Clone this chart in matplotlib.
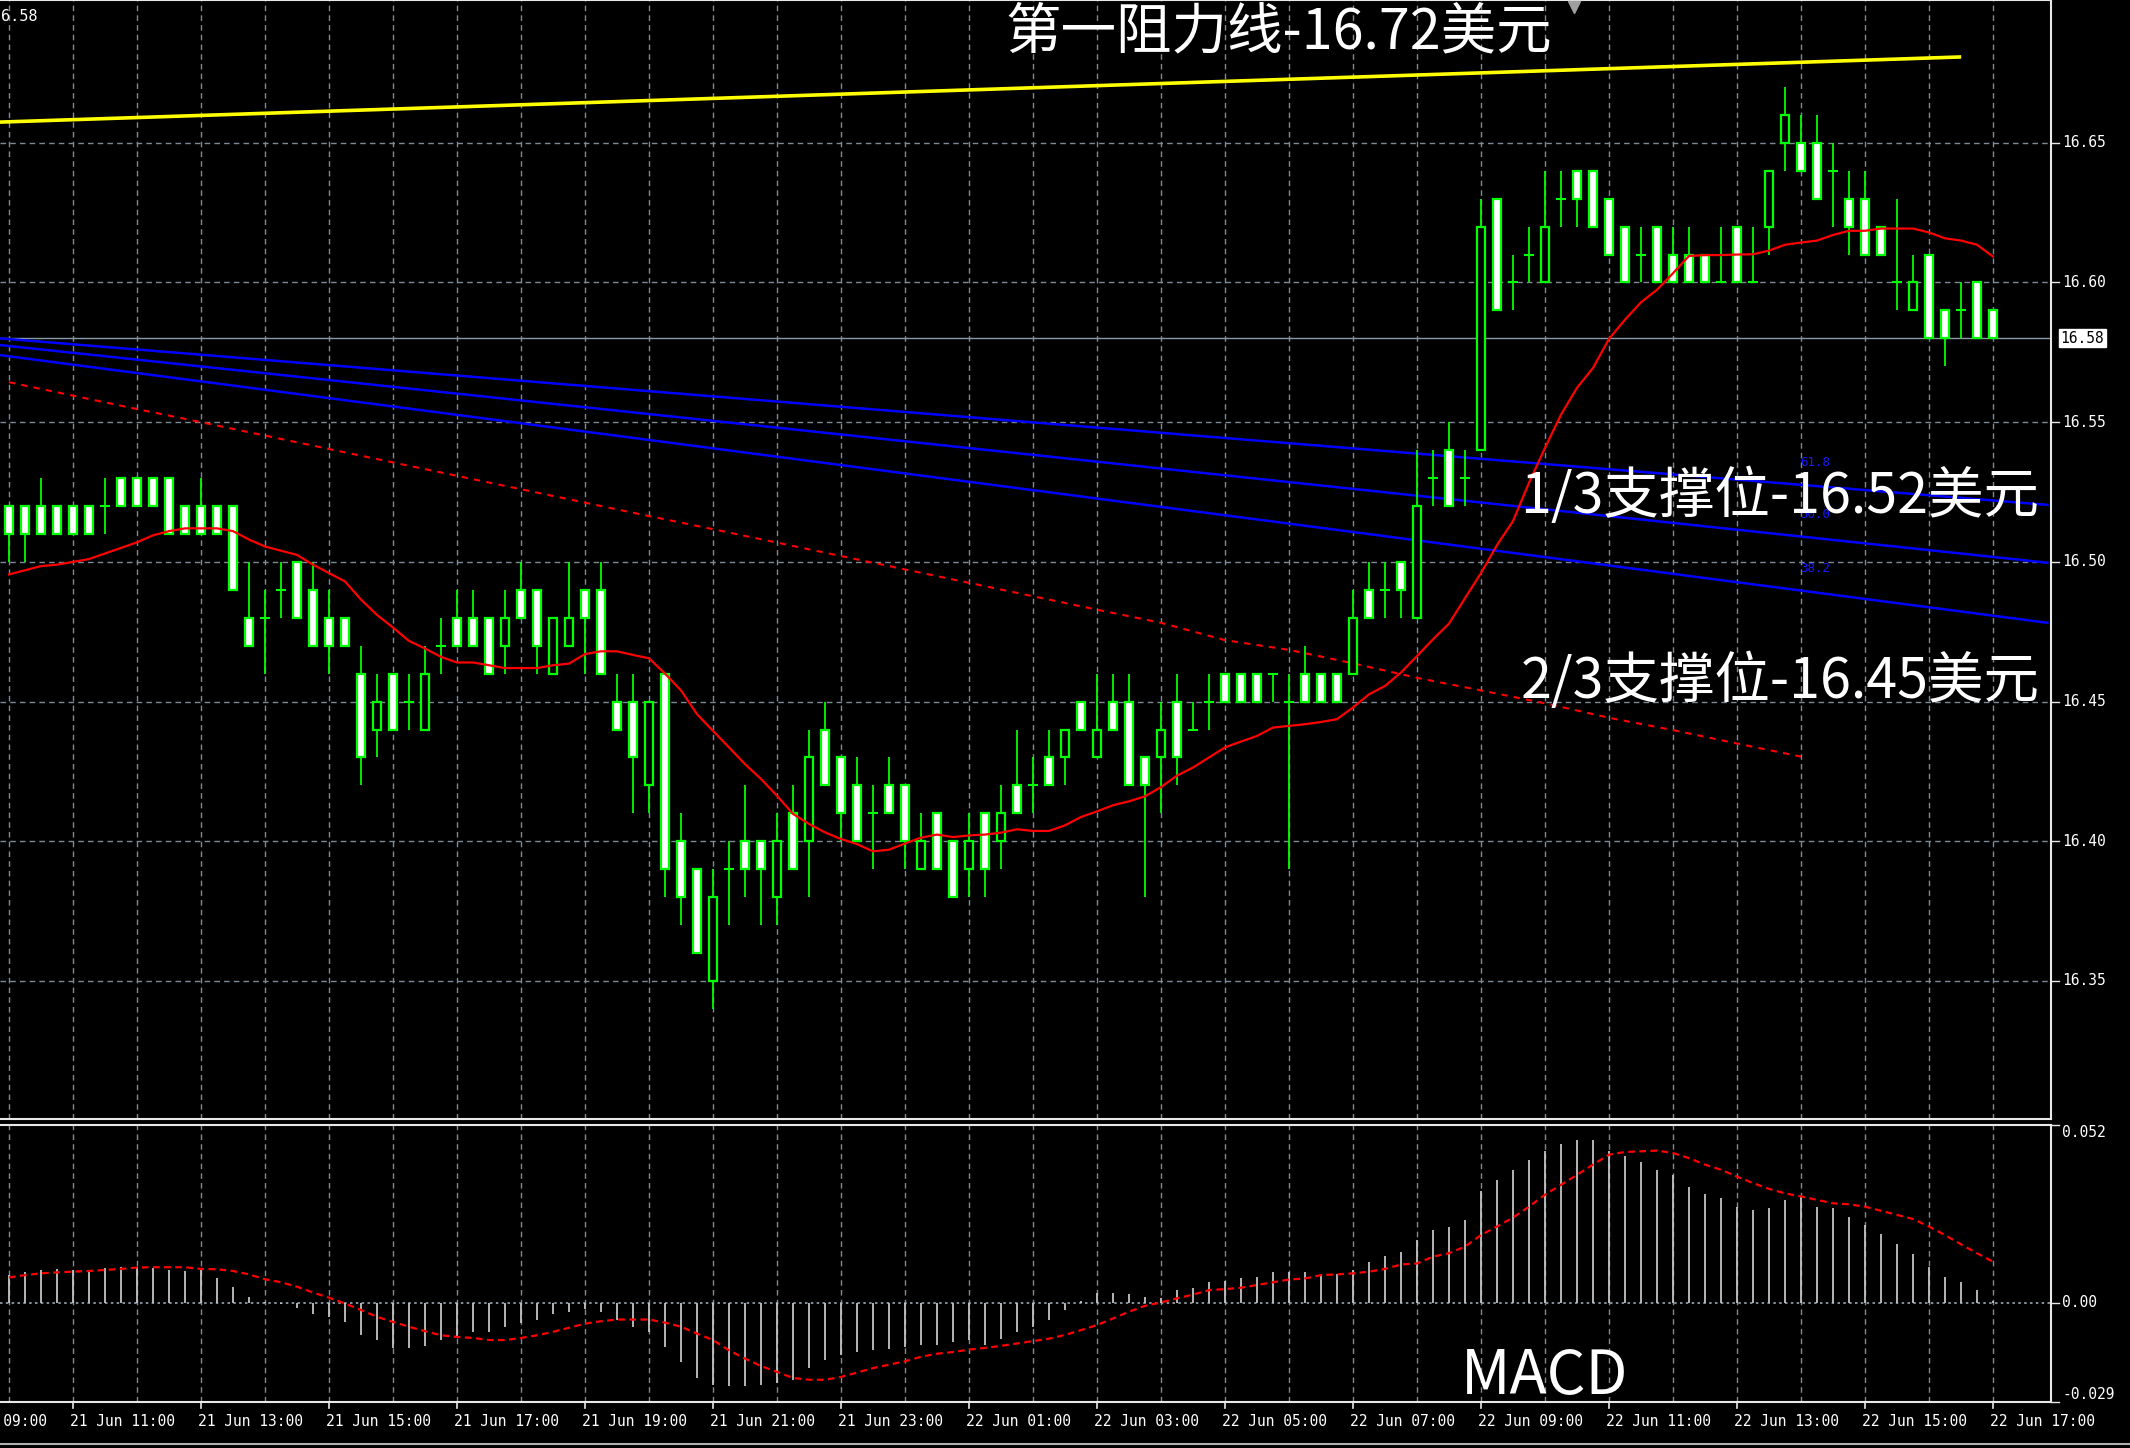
import numpy as np
import matplotlib
matplotlib.use("Agg")
import matplotlib.pyplot as plt
import matplotlib.transforms as mtransforms

plt.rcParams['font.family'] = ['Noto Sans CJK SC', 'DejaVu Sans']

# XAGUSD M15 candles, 21 Jun 10:00 .. 22 Jun 17:00
opens = [16.52, 16.52, 16.52, 16.52, 16.52, 16.52, 16.52, 16.53, 16.53, 16.53,
         16.53, 16.52, 16.52, 16.52, 16.52, 16.48, 16.48, 16.49, 16.50, 16.49,
         16.48, 16.48, 16.46, 16.44, 16.46, 16.45, 16.44, 16.47, 16.48, 16.48,
         16.48, 16.47, 16.49, 16.49, 16.46, 16.47, 16.49, 16.49, 16.45, 16.45,
         16.42, 16.46, 16.40, 16.39, 16.35, 16.39, 16.40, 16.40, 16.38, 16.41,
         16.40, 16.44, 16.43, 16.42, 16.41, 16.42, 16.42, 16.39, 16.41, 16.40,
         16.39, 16.41, 16.40, 16.42, 16.42, 16.43, 16.43, 16.45, 16.43, 16.45,
         16.45, 16.43, 16.43, 16.45, 16.44, 16.45, 16.46, 16.46, 16.46, 16.46,
         16.45, 16.46, 16.46, 16.46, 16.46, 16.49, 16.49, 16.50, 16.48, 16.53,
         16.54, 16.53, 16.54, 16.63, 16.60, 16.61, 16.60, 16.63, 16.64, 16.64,
         16.63, 16.62, 16.61, 16.62, 16.61, 16.61, 16.61, 16.60, 16.62, 16.60,
         16.62, 16.65, 16.65, 16.65, 16.64, 16.63, 16.63, 16.62, 16.60, 16.59,
         16.61, 16.59, 16.59, 16.60, 16.59]
highs = [16.52, 16.52, 16.53, 16.52, 16.52, 16.52, 16.53, 16.53, 16.53, 16.53,
         16.53, 16.52, 16.53, 16.52, 16.52, 16.50, 16.49, 16.50, 16.50, 16.50,
         16.49, 16.48, 16.47, 16.46, 16.46, 16.46, 16.47, 16.48, 16.49, 16.49,
         16.48, 16.49, 16.50, 16.49, 16.48, 16.50, 16.49, 16.50, 16.46, 16.46,
         16.45, 16.46, 16.41, 16.39, 16.39, 16.40, 16.42, 16.40, 16.41, 16.42,
         16.44, 16.45, 16.43, 16.43, 16.42, 16.43, 16.42, 16.41, 16.41, 16.40,
         16.41, 16.41, 16.42, 16.44, 16.43, 16.44, 16.44, 16.45, 16.46, 16.46,
         16.46, 16.43, 16.45, 16.46, 16.45, 16.46, 16.46, 16.46, 16.46, 16.46,
         16.46, 16.47, 16.46, 16.46, 16.49, 16.50, 16.50, 16.50, 16.54, 16.54,
         16.55, 16.54, 16.63, 16.63, 16.61, 16.62, 16.64, 16.64, 16.64, 16.64,
         16.63, 16.62, 16.62, 16.62, 16.62, 16.62, 16.61, 16.62, 16.62, 16.62,
         16.64, 16.67, 16.66, 16.66, 16.65, 16.64, 16.64, 16.62, 16.63, 16.61,
         16.61, 16.59, 16.60, 16.60, 16.59]
lows = [16.50, 16.50, 16.51, 16.51, 16.51, 16.51, 16.51, 16.52, 16.52, 16.52,
        16.51, 16.51, 16.51, 16.51, 16.49, 16.47, 16.46, 16.48, 16.48, 16.47,
        16.46, 16.47, 16.42, 16.43, 16.44, 16.44, 16.44, 16.46, 16.47, 16.47,
        16.46, 16.46, 16.48, 16.46, 16.46, 16.47, 16.46, 16.46, 16.44, 16.41,
        16.41, 16.38, 16.37, 16.36, 16.34, 16.37, 16.38, 16.37, 16.37, 16.39,
        16.38, 16.42, 16.40, 16.40, 16.39, 16.41, 16.39, 16.39, 16.39, 16.38,
        16.38, 16.38, 16.39, 16.41, 16.41, 16.42, 16.42, 16.44, 16.43, 16.44,
        16.42, 16.38, 16.41, 16.42, 16.44, 16.44, 16.45, 16.45, 16.45, 16.45,
        16.39, 16.45, 16.45, 16.45, 16.46, 16.48, 16.48, 16.48, 16.48, 16.52,
        16.52, 16.52, 16.54, 16.59, 16.59, 16.60, 16.60, 16.62, 16.62, 16.62,
        16.61, 16.60, 16.60, 16.60, 16.60, 16.60, 16.60, 16.60, 16.60, 16.60,
        16.61, 16.64, 16.64, 16.63, 16.62, 16.61, 16.61, 16.61, 16.59, 16.59,
        16.58, 16.57, 16.58, 16.58, 16.58]
closes = [16.51, 16.51, 16.51, 16.51, 16.51, 16.51, 16.52, 16.52, 16.52, 16.52,
          16.51, 16.51, 16.51, 16.51, 16.49, 16.47, 16.48, 16.49, 16.48, 16.47,
          16.47, 16.47, 16.43, 16.45, 16.44, 16.45, 16.46, 16.47, 16.47, 16.47,
          16.46, 16.48, 16.48, 16.47, 16.48, 16.48, 16.48, 16.46, 16.44, 16.43,
          16.45, 16.39, 16.38, 16.36, 16.38, 16.39, 16.39, 16.39, 16.40, 16.39,
          16.43, 16.42, 16.41, 16.40, 16.41, 16.41, 16.40, 16.40, 16.39, 16.38,
          16.40, 16.39, 16.41, 16.41, 16.42, 16.42, 16.44, 16.44, 16.44, 16.44,
          16.42, 16.42, 16.44, 16.43, 16.44, 16.45, 16.45, 16.45, 16.45, 16.46,
          16.45, 16.45, 16.45, 16.45, 16.48, 16.48, 16.49, 16.49, 16.52, 16.53,
          16.52, 16.53, 16.62, 16.59, 16.60, 16.61, 16.62, 16.63, 16.63, 16.62,
          16.61, 16.60, 16.61, 16.60, 16.60, 16.60, 16.60, 16.60, 16.60, 16.60,
          16.64, 16.66, 16.64, 16.63, 16.64, 16.62, 16.61, 16.61, 16.60, 16.60,
          16.58, 16.58, 16.59, 16.58, 16.58]

# red moving average (solid), one value per candle
ma_fast = [16.4955, 16.497, 16.4985, 16.499, 16.500, 16.501, 16.503, 16.505, 16.507, 16.5095,
           16.511, 16.512, 16.512, 16.512, 16.511, 16.508, 16.5055, 16.504, 16.5025, 16.499,
           16.496, 16.493, 16.4865, 16.481, 16.4765, 16.4717, 16.469, 16.466, 16.464, 16.464,
           16.463, 16.462, 16.462, 16.462, 16.463, 16.4636, 16.467, 16.468, 16.468, 16.4667,
           16.4655, 16.460, 16.454, 16.4455, 16.4395, 16.4336, 16.4276, 16.4223, 16.4163, 16.4098,
           16.4062, 16.4032, 16.4008, 16.399, 16.3964, 16.397, 16.3992, 16.4013, 16.4024, 16.4015,
           16.4021, 16.4024, 16.4031, 16.4043, 16.4037, 16.4037, 16.4057, 16.4087, 16.4107, 16.4129,
           16.4143, 16.4161, 16.4194, 16.4235, 16.4264, 16.430, 16.4336, 16.4357, 16.4377, 16.4407,
           16.4413, 16.4419, 16.4427, 16.4437, 16.4479, 16.4526, 16.4556, 16.4604, 16.4663, 16.4723,
           16.4779, 16.487, 16.496, 16.506, 16.5146, 16.5283, 16.5408, 16.5527, 16.5623, 16.5694,
           16.5798, 16.5867, 16.5929, 16.5974, 16.6033, 16.6095, 16.6098, 16.6098, 16.610, 16.6101,
           16.6114, 16.6135, 16.6143, 16.615, 16.617, 16.6185, 16.6185, 16.6193, 16.6193, 16.6193,
           16.6179, 16.6158, 16.615, 16.6135, 16.6093]

# red dashed slow average, read every hour
ma_slow_idx = [0, 4, 8, 12, 16, 20, 24, 28, 32, 36, 40, 44, 48, 52, 56, 60, 64, 68, 72,
               76, 80, 84, 88, 92, 96, 100, 104, 108, 112]
ma_slow = [16.5643, 16.5595, 16.5547, 16.5500, 16.5452, 16.5404, 16.5356, 16.5308, 16.5260,
           16.5212, 16.5164, 16.5117, 16.5069, 16.5021, 16.4973, 16.4925, 16.4877, 16.4829,
           16.4782, 16.4720, 16.4685, 16.4637, 16.4585, 16.4540, 16.4494, 16.4442, 16.4398,
           16.4350, 16.4303]

# fibo fan lines (61.8 / 50.0 / 38.2) and resistance trendline: start / end
fan_idx = [-0.5625, 127.4]
fan_start = [16.5800, 16.5776, 16.5740]
fan_end = [16.5204, 16.4997, 16.4782]
fan_names = ["61.8", "50.0", "38.2"]
res_idx = [-0.5625, 121.9]
res_price = [16.6574, 16.6807]
last_price = 16.58

# MACD histogram and signal (x 0.001)
macd_hist = [8.1, 8.9, 9.6, 9.8, 9.6, 9.6, 10.1, 10.6, 10.6, 10.3,
             9.6, 9.3, 9.6, 7.1, 4.7, 1.8, 0.3, -0.3, -1.5, -3.4,
             -4.1, -5.6, -9.5, -10.9, -13.2, -13.2, -12.7, -10.9, -10.3, -8.5,
             -8.5, -7.0, -5.8, -5.1, -3.4, -2.6, -1.7, -2.8, -5.1, -7.0,
             -8.5, -12.9, -17.3, -22.0, -23.9, -24.4, -24.4, -24.1, -23.6, -22.7,
             -19.1, -16.8, -15.3, -14.4, -13.9, -13.4, -12.9, -12.4, -12.4, -11.4,
             -10.9, -12.4, -10.5, -8.5, -7.0, -5.1, -2.1, 0.5, 3.0, 3.0,
             2.5, 1.8, 1.5, 3.6, 4.2, 6.0, 6.4, 7.1, 7.6, 8.9,
             8.9, 8.9, 8.3, 8.3, 9.6, 11.8, 13.7, 14.9, 18.4, 21.3,
             22.3, 24.2, 32.7, 36.0, 38.9, 41.8, 44.5, 46.4, 47.7, 47.7,
             44.3, 42.8, 41.3, 38.9, 37.4, 34.0, 31.8, 30.6, 28.1, 27.2,
             27.6, 30.1, 31.3, 28.1, 27.6, 25.2, 22.6, 20.0, 17.1, 14.2,
             10.6, 7.6, 6.0, 3.6, 0.5]
macd_signal = [7.4, 8.1, 8.6, 8.9, 9.1, 9.3, 9.6, 9.9, 10.3, 10.4,
               10.4, 10.4, 9.9, 9.8, 9.3, 8.3, 6.9, 6.0, 4.7, 3.0,
               1.5, -0.2, -2.1, -4.1, -5.6, -7.0, -8.3, -9.5, -10.0, -10.3,
               -10.9, -10.9, -10.3, -9.5, -8.5, -7.3, -6.1, -5.4, -4.9, -4.9,
               -4.9, -5.8, -7.0, -9.0, -10.9, -13.9, -16.3, -18.5, -20.2, -22.0,
               -22.5, -22.5, -21.7, -20.4, -19.1, -18.1, -17.1, -15.8, -14.9, -14.4,
               -13.7, -13.2, -12.6, -11.9, -11.2, -10.5, -9.4, -8.0, -6.5, -4.6,
               -2.6, -0.9, 0.1, 1.3, 2.4, 3.7, 4.0, 4.4, 5.2, 6.0,
               6.8, 7.1, 8.1, 8.3, 8.6, 9.1, 9.9, 11.2, 11.5, 13.5,
               14.5, 16.4, 19.8, 22.3, 24.9, 28.1, 31.6, 34.5, 37.4, 40.4,
               43.3, 44.1, 44.3, 44.5, 43.8, 42.3, 40.4, 38.9, 36.9, 35.0,
               33.3, 32.0, 31.1, 30.1, 29.1, 28.8, 28.1, 26.9, 25.7, 24.5,
               22.3, 19.8, 17.1, 14.5, 12.0]

time_idx = [-4, 4, 12, 20, 28, 36, 44, 52, 60, 68, 76, 84, 92, 100, 108, 116, 124]
time_labels = ["21 Jun 09:00", "21 Jun 11:00", "21 Jun 13:00", "21 Jun 15:00", "21 Jun 17:00",
               "21 Jun 19:00", "21 Jun 21:00", "21 Jun 23:00", "22 Jun 01:00", "22 Jun 03:00",
               "22 Jun 05:00", "22 Jun 07:00", "22 Jun 09:00", "22 Jun 11:00", "22 Jun 13:00",
               "22 Jun 15:00", "22 Jun 17:00"]
price_ticks = [16.35, 16.40, 16.45, 16.50, 16.55, 16.60, 16.65]
macd_ticks = [0.052, 0.0, -0.029]
macd_tick_labels = ["0.052", "0.00", "-0.029"]

GREEN = '#00ff00'
GRID = '#7d8b98'
MONO = 'DejaVu Sans Mono'

o = np.array(opens); h = np.array(highs); l = np.array(lows); c = np.array(closes)
x = np.arange(len(o))

fig = plt.figure(figsize=(21.3, 14.48), dpi=100, facecolor='black')
ax = fig.add_axes([0, 0.2272, 0.9629, 0.7728], facecolor='black')
ax2 = fig.add_axes([0, 0.0318, 0.9629, 0.1913], facecolor='black')

xlim = (-0.5625, 127.625)
ax.set_xlim(*xlim)
ax.set_ylim(16.3006, 16.7011)
ax2.set_xlim(*xlim)
ax2.set_ylim(-0.029, 0.052)

for a in (ax, ax2):
    a.set_xticks([]); a.set_yticks([])
    a.spines['left'].set_visible(False)
    for s in ('right', 'bottom', 'top'):
        a.spines[s].set_color('#e8e8e8')
        a.spines[s].set_linewidth(1.5)
    for gx in range(0, 128, 4):
        a.axvline(gx, color=GRID, lw=1.0, ls=(0, (4, 3)), zorder=0)

for p in price_ticks:
    ax.axhline(p, color=GRID, lw=1.0, ls=(0, (4, 3)), zorder=0)

# trend lines
ax.plot(res_idx, res_price, color='#ffff00', lw=2.6, zorder=2)
for s, e in zip(fan_start, fan_end):
    ax.plot(fan_idx, [s, e], color='#0000ff', lw=1.8, zorder=2)
for name, s, e in zip(fan_names, fan_start, fan_end):
    fx = 112.9
    fy = s + (e - s) * (fx - fan_idx[0]) / (fan_idx[1] - fan_idx[0]) + 0.0085
    ax.text(fx, fy, name, color='#1a1aff', fontsize=9, family=MONO,
            ha='center', va='center', zorder=2)
ax.axhline(last_price, color='#8a9aa8', lw=1.0, zorder=1)

# moving averages
ax.plot(ma_slow_idx, ma_slow, color='#ff0000', lw=1.5, ls=(0, (3, 3)), zorder=2)
ax.plot(x, ma_fast, color='#ff0000', lw=1.6, zorder=4)

# candles
ax.vlines(x, l, h, color=GREEN, lw=1.3, zorder=3)
bear = c < o - 1e-9
bull = c > o + 1e-9
doji = ~(bear | bull)
ax.bar(x[bear], (o - c)[bear], bottom=c[bear], width=0.5, facecolor='white',
       edgecolor=GREEN, lw=1.6, zorder=3)
ax.bar(x[bull], (c - o)[bull], bottom=o[bull], width=0.5, facecolor='black',
       edgecolor=GREEN, lw=1.6, zorder=3)
ax.hlines(o[doji], x[doji] - 0.3, x[doji] + 0.3, color=GREEN, lw=1.5, zorder=3)

# right price scale
tr = mtransforms.blended_transform_factory(ax.transAxes, ax.transData)
for p in price_ticks:
    ax.plot([1.0, 1.004], [p, p], color='#e8e8e8', lw=1, transform=tr, clip_on=False)
    ax.text(1.0055, p, f"{p:.2f}", color='white', fontsize=10.5, family=MONO,
            va='center', ha='left', transform=tr, clip_on=False)
ax.text(1.0045, last_price, f"{last_price:.2f}", color='black', fontsize=10.5, family=MONO,
        va='center', ha='left', transform=tr, clip_on=False,
        bbox=dict(facecolor='white', edgecolor='white', pad=1.2))

# MACD
hist = np.array(macd_hist) / 1000.0
sig = np.array(macd_signal) / 1000.0
ax2.axhline(0, color='#9aa8b4', lw=1.2, ls=(0, (1.5, 2)), zorder=1)
ax2.vlines(x, 0, hist, color='#c4c4c4', lw=1.3, zorder=2)
ax2.plot(x, sig, color='#ff0000', lw=1.6, ls=(0, (3, 2)), zorder=3)

tr2 = mtransforms.blended_transform_factory(ax2.transAxes, ax2.transData)
for v, lab in zip(macd_ticks, macd_tick_labels):
    ax2.plot([1.0, 1.004], [v, v], color='#e8e8e8', lw=1, transform=tr2, clip_on=False)
    va = 'top' if v > 0.03 else ('bottom' if v < -0.02 else 'center')
    ax2.text(1.0055, v, lab, color='white', fontsize=10.5, family=MONO,
             va=va, ha='left', transform=tr2, clip_on=False)

# time axis
tr3 = mtransforms.blended_transform_factory(ax2.transData, ax2.transAxes)
for ti, lab in zip(time_idx, time_labels):
    ax2.plot([ti, ti], [0, -0.022], color='#e8e8e8', lw=1.2, transform=tr3, clip_on=False)
    ax2.text(ti - 0.2, -0.07, lab, color='white', fontsize=10.5, family=MONO,
             ha='left', va='center', transform=tr3, clip_on=False)

# annotations
big = dict(color='white', fontsize=40, ha='center', va='center')
fig.text(0.6005, 0.9775, "第一阻力线-16.72美元", **big)
fig.text(0.8357, 0.6565, "1/3支撑位-16.52美元", **big)
fig.text(0.8357, 0.5285, "2/3支撑位-16.45美元", **big)
fig.text(0.7254, 0.0495, "MACD", color='white', fontsize=44, ha='center', va='center')
fig.text(0.0005, 0.9885, "6.58", color='white', fontsize=11, family=MONO, ha='left', va='center')
fig.lines.append(plt.Line2D([0.739], [0.9955], marker='v', color='#a0a0a0', markersize=9,
                            transform=fig.transFigure))
fig.lines.append(plt.Line2D([0, 1], [0.003, 0.003], color='#b0b0b0', lw=1.5,
                            transform=fig.transFigure))

fig.savefig('out.png', dpi=100, facecolor='black')
